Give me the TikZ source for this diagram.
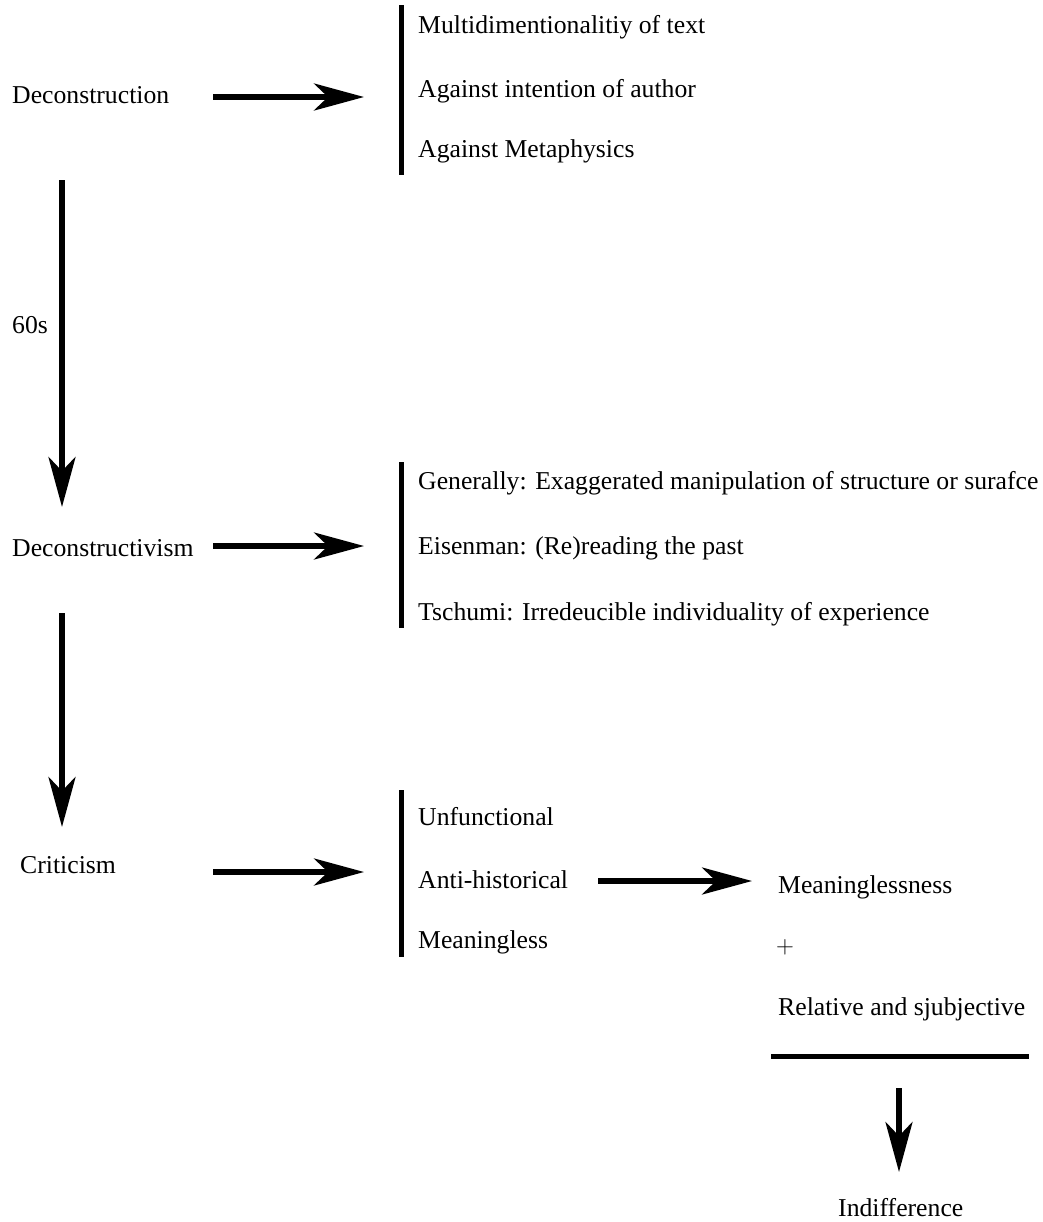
\documentclass[tikz,border=0pt]{standalone}
\usepackage{fontspec}
\setmainfont{Liberation Serif}
\usetikzlibrary{arrows.meta}
\begin{document}
\begin{tikzpicture}[x=1bp,y=-1bp,
  txt/.style={anchor=base west,inner sep=0pt,font=\fontsize{25.8}{30}\selectfont},
  arr/.style={line width=5.5bp,-{Stealth[length=50bp,width=27bp,inset=14bp]}},
  bar/.style={line width=5bp}]
\useasboundingbox (0,0) rectangle (1043,1222);
% left column
\node[txt] (dec) at (12,103) {Deconstruction};
\node[txt] (s60) at (12,333) {60s};
\node[txt] (dcv) at (12,556) {Deconstructivism};
\node[txt] (cri) at (20,873) {Criticism};
% group 1
\node[txt] (m1) at (418,33) {Multidimentionalitiy of text};
\node[txt] (m2) at (418,97) {Against intention of author};
\node[txt] (m3) at (418,157) {Against Metaphysics};
% group 2
\node[txt] (g1) at (418,489) {Generally: Exaggerated manipulation of structure or surafce};
\node[txt] (g2) at (418,554) {Eisenman: (Re)reading the past};
\node[txt] (g3) at (418,620) {Tschumi: Irredeucible individuality of experience};
% group 3
\node[txt] (c1) at (418,825) {Unfunctional};
\node[txt] (c2) at (418,888) {Anti-historical};
\node[txt] (c3) at (418,948) {Meaningless};
% result
\node[txt] (r1) at (778,893) {Meaninglessness};
\node[txt] (plus) at (776,953) {$+$};
\node[txt] (r2) at (778,1015) {Relative and sjubjective};
\node[txt] (ind) at (838,1216) {Indifference};
% bars
\coordinate (b1t) at (401,5);   \coordinate (b1b) at (401,175);
\coordinate (b2t) at (401,462); \coordinate (b2b) at (401,628);
\coordinate (b3t) at (401,790); \coordinate (b3b) at (401,957);
\draw[bar] (b1t) -- (b1b);
\draw[bar] (b2t) -- (b2b);
\draw[bar] (b3t) -- (b3b);
\coordinate (hl) at (771,1056); \coordinate (hr) at (1029,1056);
\draw[bar] (hl) -- (hr);
% arrow endpoints
\coordinate (a1s) at (213,97);  \coordinate (a1e) at (364,97);
\coordinate (a2s) at (213,546); \coordinate (a2e) at (364,546);
\coordinate (a3s) at (213,872); \coordinate (a3e) at (364,872);
\coordinate (a4s) at (598,881); \coordinate (a4e) at (752,881);
\coordinate (v1s) at (62,180);  \coordinate (v1e) at (62,507);
\coordinate (v2s) at (62,613);  \coordinate (v2e) at (62,827);
\coordinate (v3s) at (899,1088); \coordinate (v3e) at (899,1172);
\draw[arr] (a1s) -- (a1e);
\draw[arr] (a2s) -- (a2e);
\draw[arr] (a3s) -- (a3e);
\draw[arr] (a4s) -- (a4e);
\draw[arr] (v1s) -- (v1e);
\draw[arr] (v2s) -- (v2e);
\draw[arr] (v3s) -- (v3e);
\end{tikzpicture}
\end{document}
